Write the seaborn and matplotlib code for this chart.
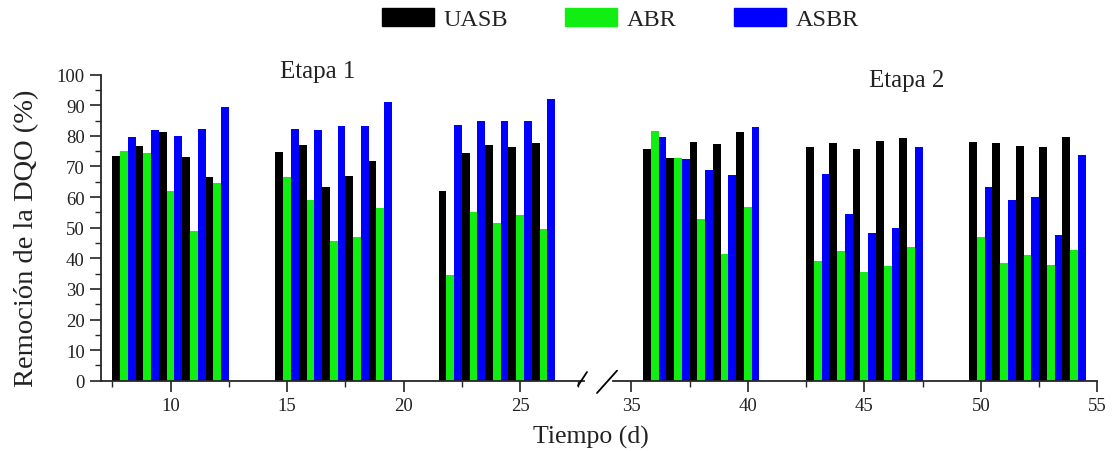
import pandas as pd
import matplotlib.pyplot as plt
import matplotlib.ticker as mticker
from matplotlib.lines import Line2D
import seaborn as sns

# Etapa 1 and Etapa 2 sampling days
days_1 = [8, 9, 10, 11, 12, 15, 16, 17, 18, 19, 22, 23, 24, 25, 26]
days_2 = [36, 37, 38, 39, 40, 43, 44, 45, 46, 47, 50, 51, 52, 53, 54]

uasb_1 = [73.5, 76.8, 81.4, 73.2, 66.5, 74.6, 77.1, 63.2, 67.0, 71.9, 62.1, 74.3, 77.0, 76.5, 77.6]
abr_1 = [75.2, 74.3, 62.1, 49.0, 64.6, 66.5, 59.2, 45.8, 46.9, 56.4, 34.5, 55.0, 51.4, 54.2, 49.6]
asbr_1 = [79.7, 81.9, 80.0, 82.3, 89.3, 82.3, 82.0, 83.1, 83.3, 91.2, 83.7, 84.8, 84.8, 84.8, 92.1]

uasb_2 = [75.7, 72.7, 78.1, 77.4, 81.2, 76.3, 77.6, 75.7, 78.2, 79.3, 78.1, 77.6, 76.6, 76.5, 79.5]
abr_2 = [81.5, 72.7, 52.8, 41.4, 56.7, 39.2, 42.3, 35.4, 37.6, 43.6, 47.1, 38.4, 41.1, 37.9, 42.7]
asbr_2 = [79.7, 72.5, 68.9, 67.2, 82.8, 67.5, 54.5, 48.2, 49.8, 76.3, 63.2, 59.1, 59.9, 47.7, 73.8]

reactors = ["UASB", "ABR", "ASBR"]
colors = {"UASB": "#000000", "ABR": "#11ee11", "ASBR": "#0000ff"}


def long_table(days, uasb, abr, asbr):
    frames = []
    for name, vals in zip(reactors, [uasb, abr, asbr]):
        frames.append(pd.DataFrame({"dia": days, "remocion": vals, "reactor": name}))
    return pd.concat(frames, ignore_index=True)


df1 = long_table(days_1, uasb_1, abr_1, asbr_1)
df2 = long_table(days_2, uasb_2, abr_2, asbr_2)

sns.set_style("white")
plt.rcParams["font.family"] = ["Liberation Serif", "DejaVu Serif"]
plt.rcParams["axes.linewidth"] = 1.3

fig = plt.figure(figsize=(11.12, 4.52), dpi=100)
ax1 = fig.add_axes([100.7 / 1112, 70.3 / 452, 483.5 / 1112, 306 / 452])
ax2 = fig.add_axes([612.7 / 1112, 70.3 / 452, 484.6 / 1112, 306 / 452])

for ax, df in [(ax1, df1), (ax2, df2)]:
    sns.barplot(data=df, x="dia", y="remocion", hue="reactor", hue_order=reactors,
                palette=colors, native_scale=True, width=1.0, gap=0,
                errorbar=None, linewidth=0, saturation=1, ax=ax, legend=False)
    ax.set_ylim(0, 100)
    ax.set_xlabel("")
    ax.set_ylabel("")
    ax.spines["top"].set_visible(False)
    ax.spines["right"].set_visible(False)
    ax.xaxis.set_minor_locator(mticker.MultipleLocator(2.5))
    ax.tick_params(axis="both", which="major", direction="out", length=8, width=1.2,
                   labelsize=13.5, bottom=True, left=True, colors="#222222")
    ax.tick_params(axis="both", which="minor", direction="out", length=4.5, width=1.0,
                   bottom=True, left=True)

ax1.set_xlim(7, 27.75)
ax1.set_xticks([10, 15, 20, 25])
ax1.set_yticks(range(0, 101, 10))
ax1.yaxis.set_minor_locator(mticker.MultipleLocator(5))
ax1.set_ylabel("Remoción de la DQO (%)", fontsize=20.5, color="#222222")
ax1.yaxis.set_label_coords(-0.128, 0.47)

ax2.set_xlim(34.2, 55)
ax2.set_xticks([35, 40, 45, 50, 55])
ax2.spines["left"].set_visible(False)
ax2.tick_params(axis="y", which="both", left=False, labelleft=False)
ax2.patch.set_alpha(0)

ax1.text(16.3, 101.2, "Etapa 1", fontsize=18, ha="center", va="center",
         clip_on=False, color="#222222")
ax2.text(46.8, 98.3, "Etapa 2", fontsize=18, ha="center", va="center",
         clip_on=False, color="#222222")

# axis break marks
for x0, y0, x1, y1 in [(578, 386.7, 587, 373), (597, 394, 617, 371.7)]:
    fig.add_artist(Line2D([x0 / 1112, x1 / 1112], [1 - y0 / 452, 1 - y1 / 452],
                          color="black", linewidth=1.3))

fig.text(591 / 1112, 15 / 452, "Tiempo (d)", fontsize=18.5, ha="center",
         va="center", color="#222222")

handles = [plt.Rectangle((0, 0), 1, 1, color=colors[r]) for r in reactors]
fig.legend(handles, reactors, loc="center", bbox_to_anchor=(0.558, 0.956), ncol=3,
           frameon=False, fontsize=17.5, handlelength=2.14, handleheight=0.78,
           handletextpad=0.41, columnspacing=2.35, labelcolor="#222222")

fig.savefig("out.png", dpi=100, facecolor="white")
